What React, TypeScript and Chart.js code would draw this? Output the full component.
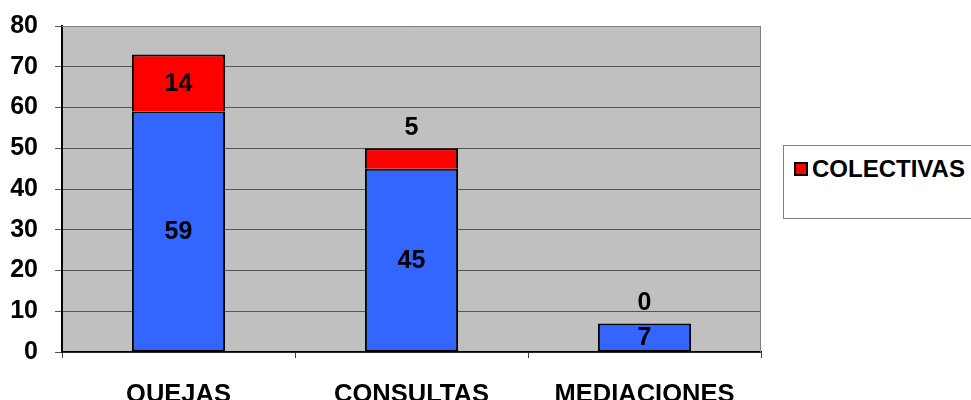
import React, { useEffect, useRef } from "react";
import { Chart, registerables } from "chart.js";

Chart.register(...registerables);

const categories = ["QUEJAS", "CONSULTAS", "MEDIACIONES"];
const individualValues = [59, 45, 7];
const colectivasValues = [14, 5, 0];
const yTicks = [0, 10, 20, 30, 40, 50, 60, 70, 80];

const FONT = "'Liberation Sans', Arial, sans-serif";

const plotBg = {
  id: "plotBg",
  beforeDraw(chart: any) {
    const { ctx, chartArea: a } = chart;
    ctx.save();
    ctx.fillStyle = "#C0C0C0";
    ctx.fillRect(a.left, a.top, a.right - a.left, a.bottom - a.top);
    ctx.restore();
  },
  afterDraw(chart: any) {
    const { ctx, chartArea: a } = chart;
    ctx.save();
    ctx.strokeStyle = "#808080";
    ctx.lineWidth = 1;
    ctx.beginPath();
    ctx.moveTo(a.left, a.top + 0.5);
    ctx.lineTo(a.right - 0.5, a.top + 0.5);
    ctx.lineTo(a.right - 0.5, a.bottom);
    ctx.stroke();
    ctx.restore();
  },
};

const barLabels = {
  id: "barLabels",
  afterDatasetsDraw(chart: any) {
    const { ctx } = chart;
    ctx.save();
    ctx.font = `bold 25px ${FONT}`;
    ctx.fillStyle = "#000";
    ctx.textAlign = "center";
    ctx.textBaseline = "middle";
    chart.data.datasets.forEach((ds: any, di: number) => {
      const meta = chart.getDatasetMeta(di);
      meta.data.forEach((bar: any, i: number) => {
        const v = ds.data[i];
        const top = Math.min(bar.y, bar.base);
        const h = Math.abs(bar.base - bar.y);
        let y = top + h / 2;
        if (di === 1 && h < 30) y = top - 21;
        ctx.fillText(String(v), bar.x, y + 1);
      });
    });
    ctx.restore();
  },
};

export default function App() {
  const ref = useRef<HTMLCanvasElement>(null);
  useEffect(() => {
    if (!ref.current) return;
    const chart = new Chart(ref.current, {
      type: "bar",
      data: {
        labels: categories,
        datasets: [
          {
            label: "INDIVIDUALES",
            data: individualValues,
            backgroundColor: "#3366FF",
            borderColor: "#000",
            borderWidth: 2,
            borderSkipped: false,
            categoryPercentage: 1,
            barPercentage: 0.4,
          },
          {
            label: "COLECTIVAS",
            data: colectivasValues,
            backgroundColor: "#FF0000",
            borderColor: "#000",
            borderWidth: 2,
            borderSkipped: "bottom",
            categoryPercentage: 1,
            barPercentage: 0.4,
          },
        ],
      },
      options: {
        responsive: false,
        animation: false,
        layout: { padding: { left: 0, right: 210, top: 26, bottom: 0 } },
        plugins: { legend: { display: false }, tooltip: { enabled: false } },
        scales: {
          x: {
            stacked: true,
            grid: { drawOnChartArea: false, tickLength: 6, color: "#404040" },
            border: { color: "#000", width: 1.5 },
            ticks: {
              color: "#000",
              font: { family: FONT, size: 25.5, weight: "bold" },
              padding: 22,
            },
            afterFit(scale: any) {
              scale.height = 48;
              scale.paddingLeft = 0;
              scale.paddingRight = 0;
            },
          },
          y: {
            stacked: true,
            min: 0,
            max: 80,
            afterBuildTicks(scale: any) {
              scale.ticks = yTicks.map((v) => ({ value: v }));
            },
            grid: { color: "#555555", lineWidth: 1, tickLength: 7 },
            border: { color: "#000", width: 2 },
            ticks: {
              color: "#000",
              font: { family: FONT, size: 25, weight: "bold" },
              padding: 17,
            },
            afterFit(scale: any) {
              scale.width = 62;
              scale.paddingTop = 0;
              scale.paddingBottom = 0;
            },
          },
        },
      },
      plugins: [plotBg, barLabels],
    });
    return () => chart.destroy();
  }, []);

  return (
    <div style={{ position: "absolute", left: 0, top: 0, width: 971, height: 400, background: "#fff", overflow: "hidden" }}>
      <canvas ref={ref} width={971} height={400} />
      <div
        style={{
          position: "absolute",
          left: 783,
          top: 145,
          width: 200,
          height: 74,
          border: "1px solid #808080",
          background: "#fff",
          boxSizing: "border-box",
        }}
      >
        <span
          style={{
            position: "absolute",
            left: 10,
            top: 16,
            width: 10,
            height: 10,
            background: "#FF0000",
            border: "2px solid #000",
          }}
        />
        <span
          style={{
            position: "absolute",
            left: 28,
            top: 9,
            fontFamily: FONT,
            fontWeight: "bold",
            fontSize: 24,
            lineHeight: "28px",
            color: "#000",
            whiteSpace: "nowrap",
          }}
        >
          COLECTIVAS
        </span>
      </div>
    </div>
  );
}
